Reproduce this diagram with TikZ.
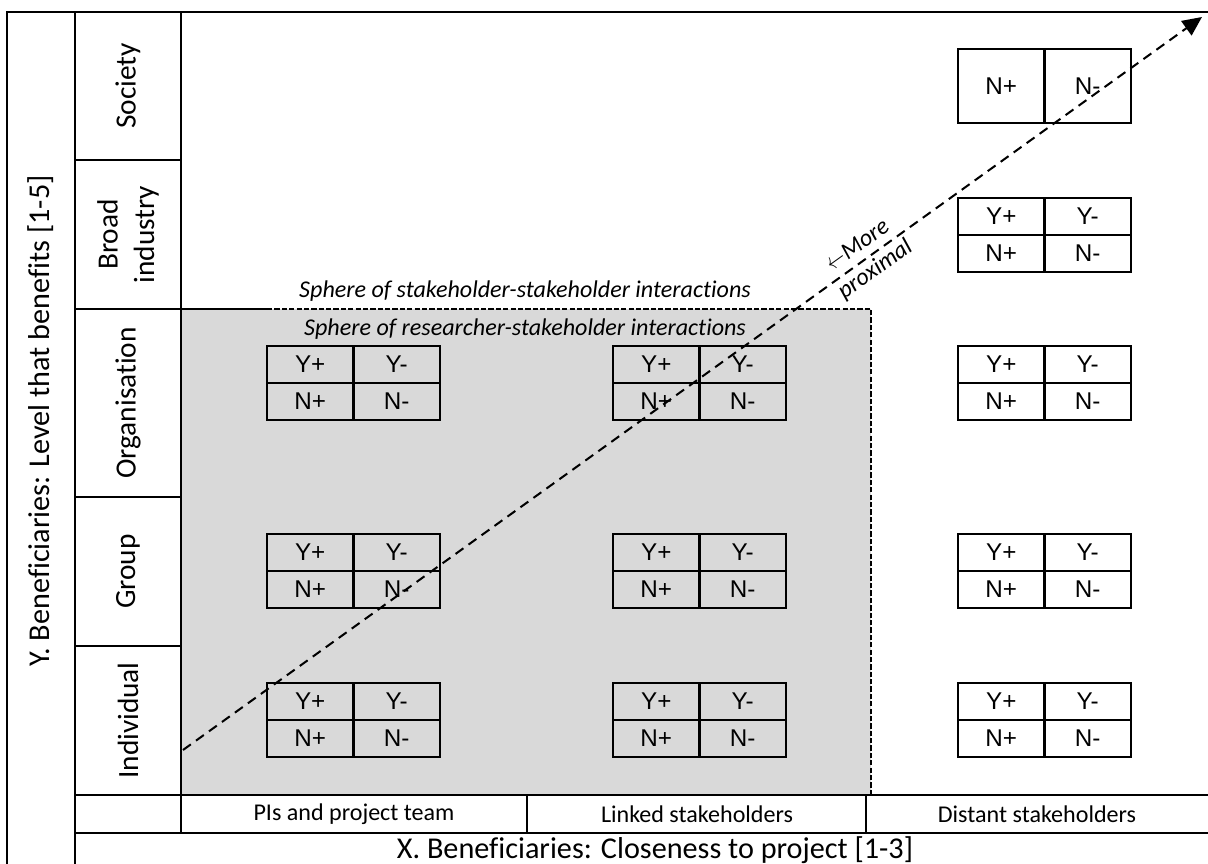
\documentclass[tikz,border=0pt]{standalone}
\usepackage{fontspec}
\setmainfont{Carlito}[Ligatures=NoCommon]
\newfontfamily\cellfont{Liberation Sans}
\usetikzlibrary{arrows.meta}

% font sizes
\newcommand\bigfont{\fontsize{16.7pt}{20.8pt}\selectfont}
\newcommand\axisfont{\fontsize{17.2pt}{20pt}\selectfont}
\newcommand\smallfont{\fontsize{13.7pt}{15pt}\selectfont}
\newcommand\proxfont{\fontsize{13.7pt}{17pt}\selectfont}
\newcommand\cellsize{\fontsize{13.8pt}{15pt}\selectfont}
\newcommand\shortleft{\scalebox{0.75}[1]{$\leftarrow$}}

\definecolor{spheregray}{RGB}{217,217,217}

\tikzset{
  tbl/.style={line width=1.5pt},
  cell/.style={draw, line width=1.3pt, rectangle, outer sep=0pt, inner sep=0pt,
    minimum width=1.73cm, minimum height=0.74cm, font=\cellfont\cellsize, anchor=north west},
  rowlabel/.style={rotate=90, align=center, font=\bigfont, inner sep=0pt},
  axislabel/.style={font=\axisfont, inner sep=0pt},
  collabel/.style={font=\smallfont, inner sep=0pt},
  spheretext/.style={font=\smallfont\itshape, inner sep=0pt},
  proxlabel/.style={font=\proxfont\itshape, inner sep=0pt, align=center, rotate=35.7},
  boundary/.style={line width=1.1pt, dash pattern=on 3pt off 1.2pt},
  proximity/.style={line width=1.15pt, dash pattern=on 5.5pt off 3.6pt,
    -{Triangle[length=11pt, width=10pt]}},
}

% a 2x2 grid of Y+/Y-/N+/N- cells, top-left corner at (#2,#3)
\newcommand\ynquad[3]{%
  \node[cell] (#1-yp) at (#2,#3) {Y+};
  \node[cell] (#1-ym) at (#1-yp.north east) {Y-};
  \node[cell] (#1-np) at (#1-yp.south west) {N+};
  \node[cell] (#1-nm) at (#1-yp.south east) {N-};
}

\begin{document}
\begin{tikzpicture}[x=0.02cm, y=-0.02cm]
\useasboundingbox (0,0) rectangle (1208,864);
\clip (0,0) rectangle (1208,864);
\fill[white] (0,0) rectangle (1208,864);

% sphere of researcher-stakeholder interactions
\fill[spheregray] (181,309) rectangle (871,795);

% table frame
\draw[tbl] (7,880) -- (7,12) -- (1215,12);
\draw[tbl] (75,12) -- (75,880);
\draw[tbl] (181,12) -- (181,833);
\foreach \yy in {160,309,497,646}
  \draw[tbl] (75,\yy) -- (181,\yy);
\draw[tbl] (181,309) -- (267,309);
\draw[tbl] (75,795) -- (1215,795);
\draw[tbl] (75,833) -- (1215,833);
\draw[tbl] (527,795) -- (527,833);
\draw[tbl] (866,795) -- (866,833);

% sphere boundaries
\draw[boundary] (267,309) -- (871,309) -- (871,795);

% axis and row labels
\node[axislabel, rotate=90] (yaxis) at (41,421) {Y. Beneficiaries: Level that benefits [1-5]};
\node[axislabel] (xaxis) at (655,850) {X. Beneficiaries: Closeness to project [1-3]};

\node[rowlabel] (society) at (128,86) {Society};
\node[rowlabel] (broad) at (128,234.5) {Broad\\industry};
\node[rowlabel] (organisation) at (128,403) {Organisation};
\node[rowlabel] (group) at (128,571.5) {Group};
\node[rowlabel] (individual) at (128,720.5) {Individual};

\node[collabel] (pis) at (354,814) {PIs and project team};
\node[collabel] (linked) at (697,814) {Linked stakeholders};
\node[collabel] (distant) at (1037,814) {Distant stakeholders};

\node[spheretext] (sphss) at (525,291) {Sphere of stakeholder-stakeholder interactions};
\node[spheretext] (sphrs) at (525,329) {Sphere of researcher-stakeholder interactions};

% benefit grids
\ynquad{po}{267}{346}
\ynquad{pg}{267}{534}
\ynquad{pi}{267}{683}
\ynquad{lo}{613}{346}
\ynquad{lg}{613}{534}
\ynquad{li}{613}{683}
\ynquad{db}{958}{198}
\ynquad{do}{958}{346}
\ynquad{dg}{958}{534}
\ynquad{di}{958}{683}
\node[cell, minimum height=1.48cm] (ds-np) at (958,49) {N+};
\node[cell, minimum height=1.48cm] (ds-nm) at (ds-np.north east) {N-};

% proximity arrow
\coordinate (near) at (183,750);
\coordinate (far) at (1202,17);
\draw[proximity] (near) -- (far);
\node[proxlabel] (proximal) at (867,258) {\shortleft More\\proximal};
\end{tikzpicture}
\end{document}
